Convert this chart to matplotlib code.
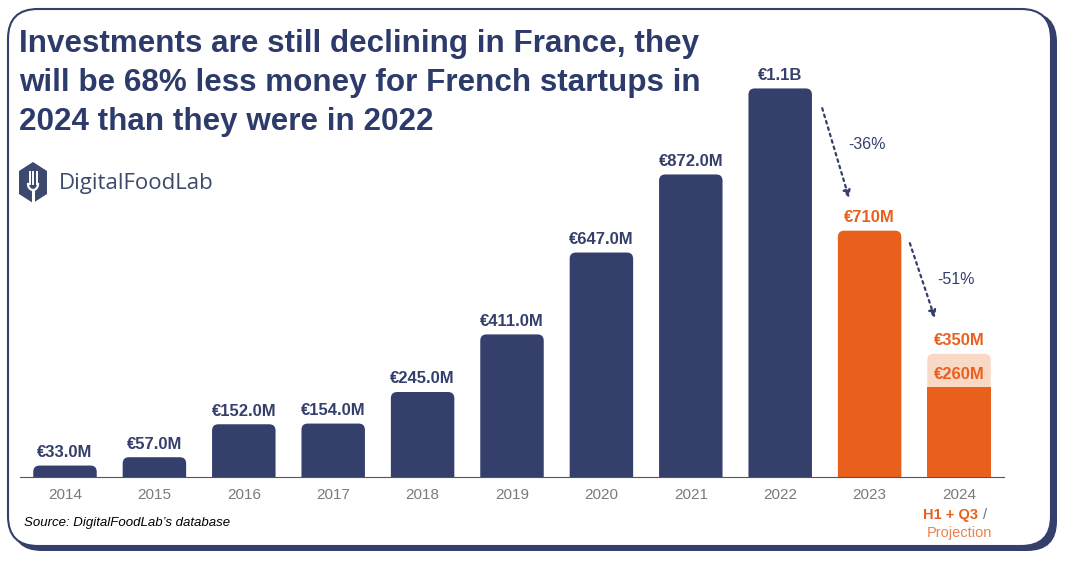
import matplotlib.pyplot as plt
import numpy as np
from matplotlib.patches import FancyBboxPatch, Polygon

# Données
years = ["2014", "2015", "2016", "2017", "2018", "2019", "2020", "2021", "2022", "2023", "2024"]
values = [33, 57, 152, 154, 245, 411, 647, 872, 1120, 710, 260]
labels = ["€33.0M", "€57.0M", "€152.0M", "€154.0M", "€245.0M", "€411.0M",
          "€647.0M", "€872.0M", "€1.1B", "€710M", "€260M"]
projection_2024 = 355
projection_label = "€350M"
changes = ["-36%", "-51%"]

NAVY = "#343f6b"
ORANGE = "#e8601c"
LIGHT = "#f9d8c6"
GREY = "#7a7a7a"

fig = plt.figure(figsize=(10.65, 5.64), dpi=100)

# cadre arrondi avec ombre
W, H = 1065, 564
shadow = FancyBboxPatch((12 / W, 13 / H), 1045 / W, 539 / H,
                        boxstyle="round,pad=0,rounding_size=0.028", mutation_aspect=W / H,
                        transform=fig.transFigure, facecolor=NAVY, edgecolor="none", zorder=-3)
frame = FancyBboxPatch((8 / W, 18 / H), 1043 / W, 537 / H,
                       boxstyle="round,pad=0,rounding_size=0.028", mutation_aspect=W / H,
                       transform=fig.transFigure, facecolor="white", edgecolor=NAVY,
                       linewidth=1.5, zorder=-2)
fig.patches.extend([shadow, frame])

YMAX = 1225
ax = fig.add_axes([20.3 / W, 1 - 477 / H, 983.4 / W, 425 / H])
ax.set_xlim(-0.5, 10.5)
ax.set_ylim(0, YMAX)
ax.patch.set_alpha(0)
for s in ["top", "right", "left"]:
    ax.spines[s].set_visible(False)
ax.spines["bottom"].set_color("#555555")
ax.spines["bottom"].set_linewidth(0.8)
ax.set_yticks([])
ax.set_xticks(range(len(years)))
ax.set_xticklabels(years, color=GREY, fontsize=11, fontfamily="Liberation Sans")
ax.tick_params(axis="x", length=0, pad=8)

bw = 0.71
aspect = (983.4 / 11) / (425 / YMAX)


def rbar(x, top, color):
    p = FancyBboxPatch((x - bw / 2, -40), bw, top + 40,
                       boxstyle="round,pad=0,rounding_size=0.07", mutation_aspect=aspect,
                       facecolor=color, edgecolor="none", clip_on=True, zorder=2)
    ax.add_patch(p)


x = np.arange(len(years))
rbar(x[10], projection_2024, LIGHT)
for i, v in enumerate(values):
    col = NAVY if i < 9 else ORANGE
    if i == 10:
        ax.bar(x[i], v, width=bw, color=ORANGE, zorder=3)
    else:
        rbar(x[i], v, col)

for i, v in enumerate(values):
    if i == 10:
        ax.text(x[i], v + 14, labels[i], ha="center", va="bottom", color=ORANGE,
                fontsize=12, fontweight="bold", fontfamily="Liberation Sans", zorder=4)
    else:
        ax.text(x[i], v + 16, labels[i], ha="center", va="bottom",
                color=NAVY if i < 9 else ORANGE,
                fontsize=12, fontweight="bold", fontfamily="Liberation Sans")
ax.text(x[10], projection_2024 + 16, projection_label, ha="center", va="bottom", color=ORANGE,
        fontsize=12, fontweight="bold", fontfamily="Liberation Sans")

# flèches pointillées
arrow = dict(arrowstyle="-|>", linestyle=(0, (1.2, 1.8)), color=NAVY, lw=1.6,
             mutation_scale=11, shrinkA=0, shrinkB=0)
ax.annotate("", xy=(8.77, 804), xytext=(8.47, 1063), arrowprops=arrow)
ax.annotate("", xy=(9.73, 458), xytext=(9.45, 674), arrowprops=arrow)
ax.text(8.97, 957, changes[0], ha="center", va="center", color=NAVY, fontsize=11.5,
        fontfamily="Liberation Sans")
ax.text(9.97, 568, changes[1], ha="center", va="center", color=NAVY, fontsize=11.5,
        fontfamily="Liberation Sans")

# 2024 sous-titre
ax.annotate("H1 + Q3", xy=(x[10], -109), xytext=(14, 0), textcoords="offset points",
            ha="right", va="center", color=ORANGE, fontsize=10.5, fontweight="bold",
            fontfamily="Liberation Sans", annotation_clip=False)
ax.annotate("/", xy=(x[10], -109), xytext=(17.5, 0), textcoords="offset points",
            ha="left", va="center", color="#6a6f86", fontsize=10.5,
            fontfamily="Liberation Sans", annotation_clip=False)
ax.text(x[10], -160, "Projection", ha="center", va="center", color="#ec8150", fontsize=10.5,
        fontfamily="Liberation Sans", clip_on=False)

# titre
title_lines = ["Investments are still declining in France, they",
               "will be 68% less money for French startups in",
               "2024 than they were in 2022"]
for k, line in enumerate(title_lines):
    fig.text(19 / W, 1 - (52 + 39 * k) / H, line, ha="left", va="baseline", color="#2d3b6b",
             fontsize=22.6, fontweight="bold", fontfamily="Liberation Sans")

# logo : hexagone + fourchette
hx = np.array([33, 47, 47, 33, 19, 19]) / 100
hy = (564 - np.array([162, 171, 194, 203, 194, 171])) / 100
fig.patches.append(Polygon(np.c_[hx, hy], closed=True, transform=fig.dpi_scale_trans,
                           facecolor="#3d4a6e", edgecolor="none"))
for px in [29.5, 33, 36.5]:
    fig.lines.append(plt.Line2D([px / 100, px / 100], [(564 - 172) / 100, (564 - 184) / 100],
                                transform=fig.dpi_scale_trans, color="white", lw=1.4))
t = np.linspace(np.pi, 2 * np.pi, 20)
fig.lines.append(plt.Line2D((33 + 5 * np.cos(t)) / 100, (564 - 184 + 6 * np.sin(t)) / 100,
                            transform=fig.dpi_scale_trans, color="white", lw=1.6))
fig.lines.append(plt.Line2D([0.33, 0.33], [(564 - 190) / 100, (564 - 203) / 100],
                            transform=fig.dpi_scale_trans, color="white", lw=2.2))
fig.text(59 / W, 1 - 184 / H, "DigitalFoodLab", ha="left", va="center", color="#3d4a6e",
         fontsize=16, fontfamily="Open Sans")

fig.text(24 / W, 1 - 523 / H, "Source: DigitalFoodLab’s database", ha="left", va="center",
         color="black", fontsize=9.5, style="italic", fontfamily="Liberation Sans")

plt.savefig("out.png", dpi=100)
